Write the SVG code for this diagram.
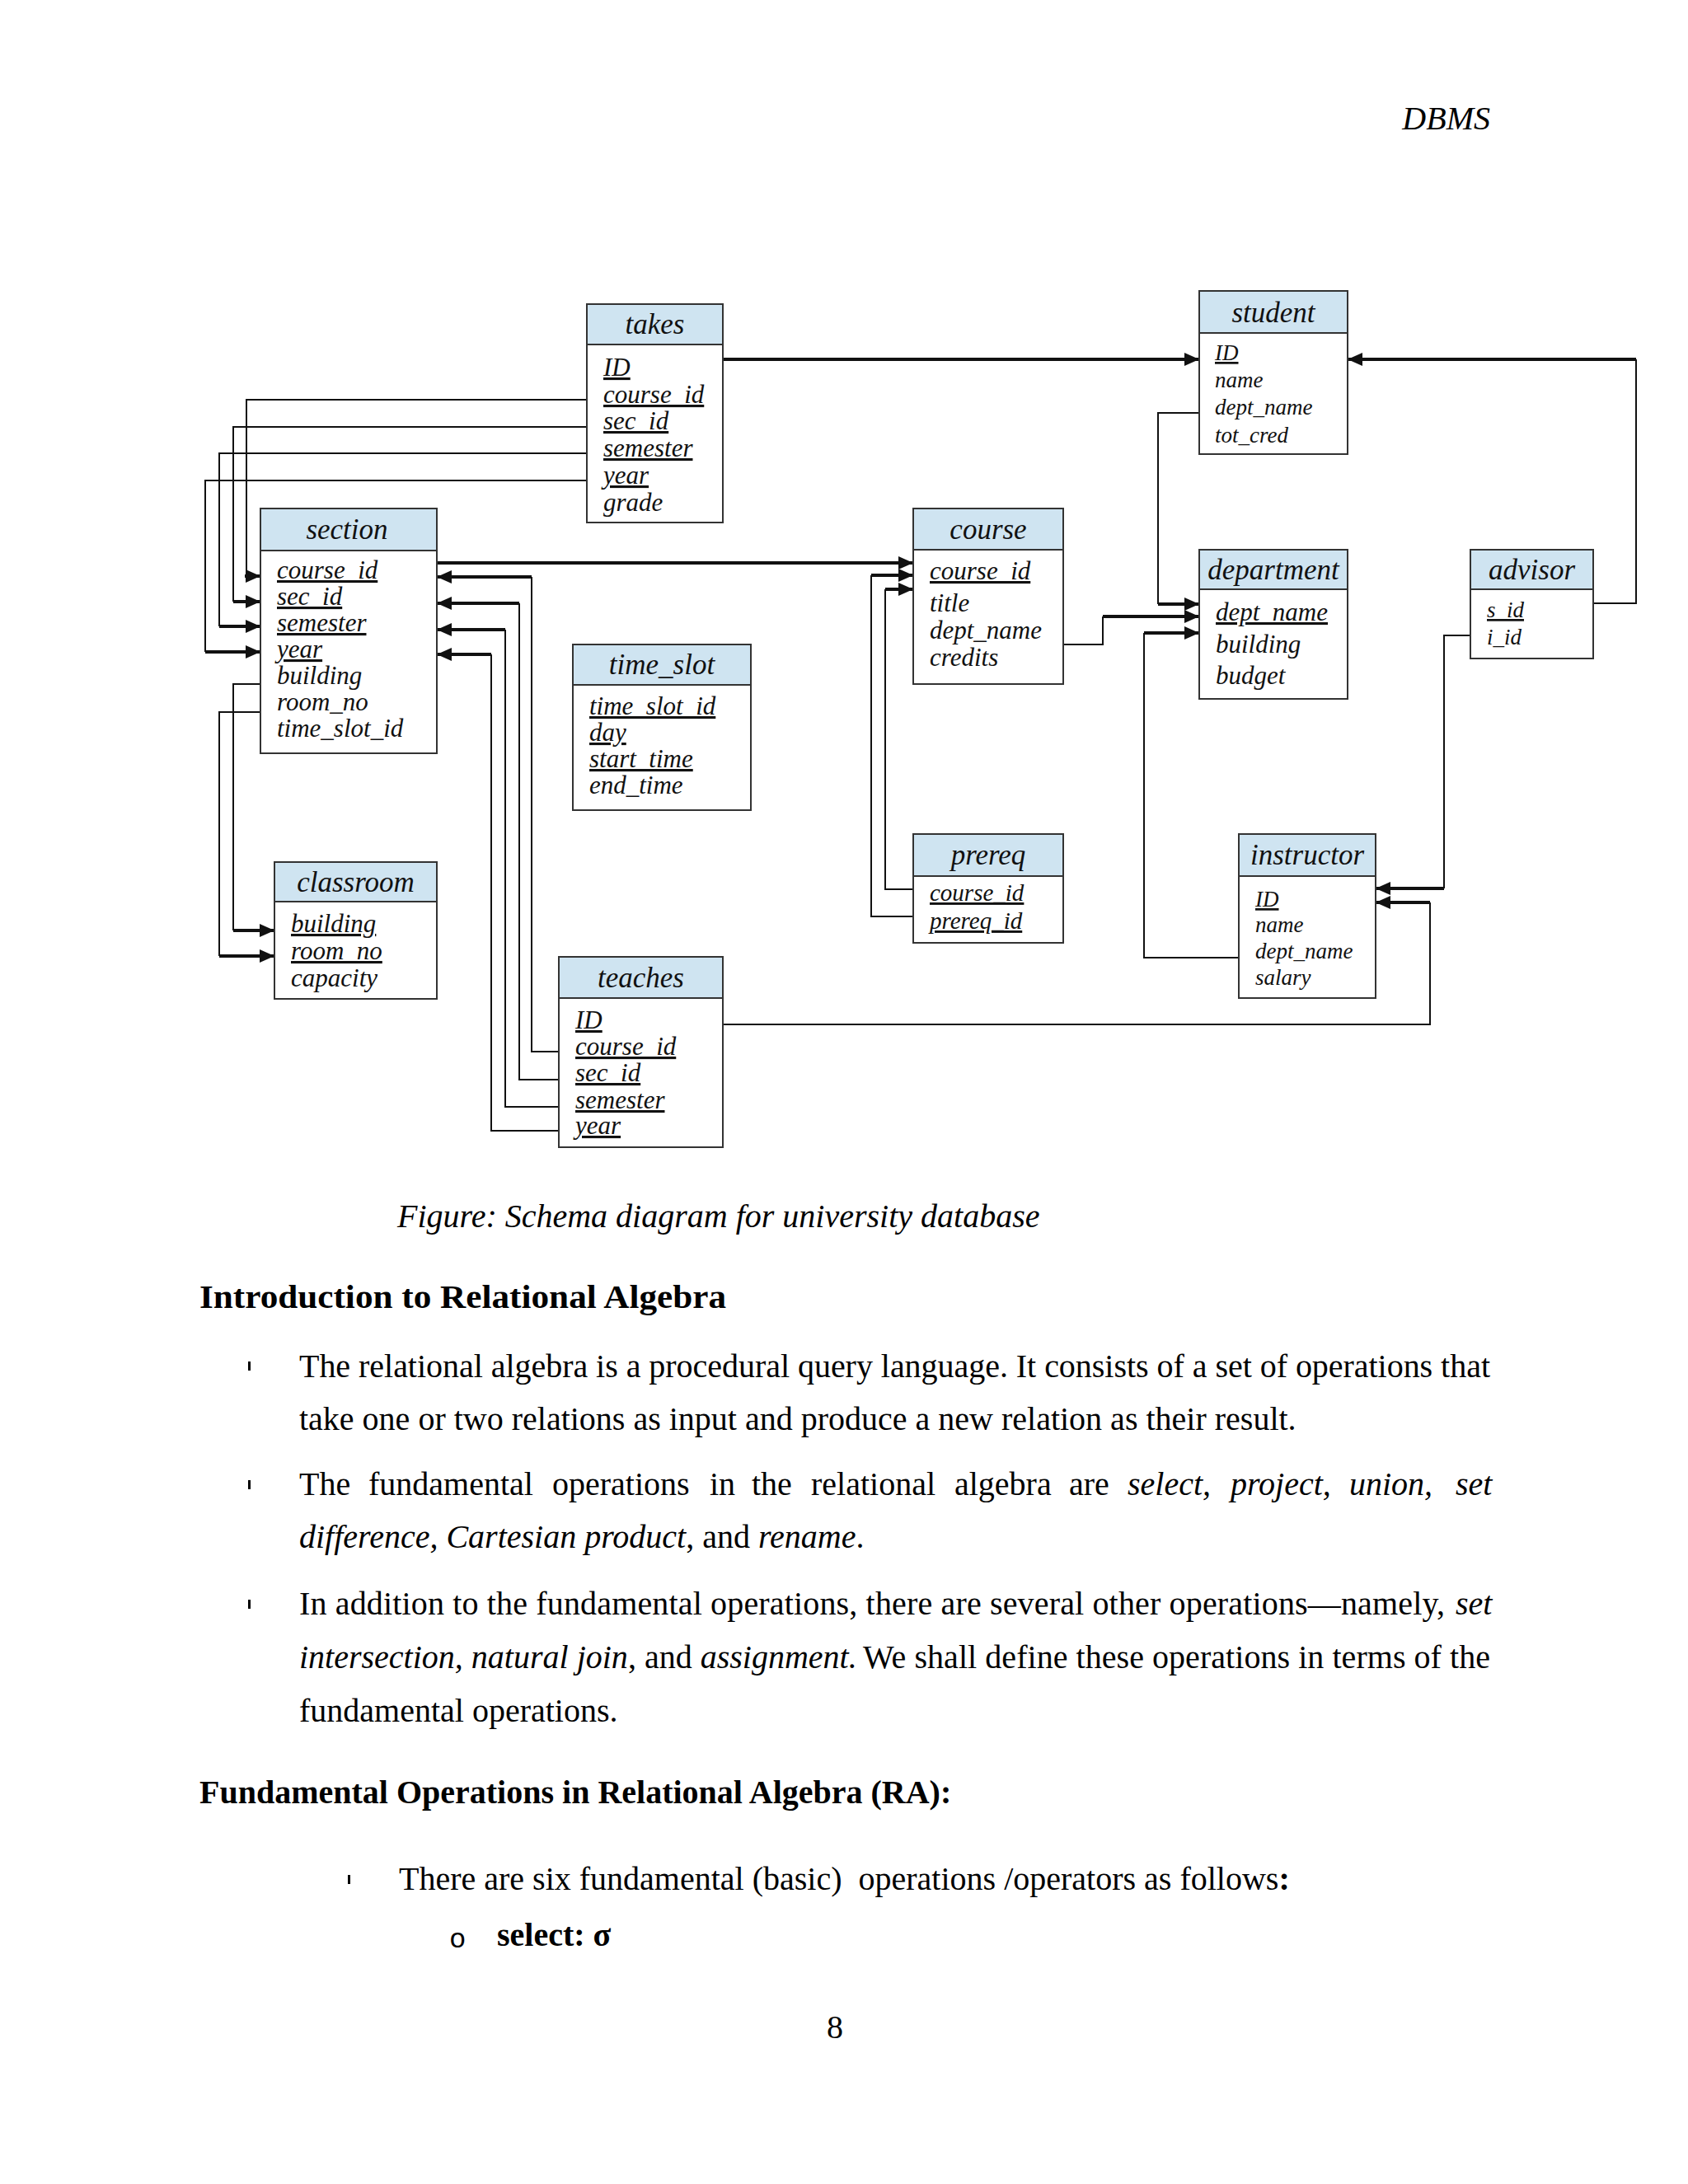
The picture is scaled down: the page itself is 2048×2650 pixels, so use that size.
<svg xmlns="http://www.w3.org/2000/svg" width="2048" height="2650" viewBox="0 0 2048 2650">
<defs>
<marker id="ah" markerUnits="userSpaceOnUse" markerWidth="19" markerHeight="17" refX="18" refY="8" orient="auto" viewBox="0 0 19 17"><path d="M0,0 L18,8 L0,16 z" fill="#111"/></marker>
<style>
.box{fill:#fff;stroke:#333;stroke-width:2}
.hdr{fill:#cfe4f1;stroke:#333;stroke-width:2}
.t{font-family:"Liberation Serif",serif;font-style:italic;fill:#111}
.h{font-size:35px;text-anchor:middle}
.a{font-size:31px}
.s{font-size:27px}
.m{font-size:29px}
.pk{text-decoration:underline}
.thin{fill:none;stroke:#111;stroke-width:2}
.thick{fill:none;stroke:#111;stroke-width:4}
.p{font-family:"Liberation Serif",serif;font-size:40px;fill:#000}
.i{font-style:italic}
.b{font-weight:bold}
.bul{fill:#000}
</style>
</defs>
<rect width="2048" height="2650" fill="#fff"/>

<text class="p i" x="1808" y="157" text-anchor="end">DBMS</text>

<g id="connectors">
<path class="thick" d="M877,436 H1455" marker-end="url(#ah)"/>
<path class="thin" d="M712,485 H299 V699"/><path class="thick" d="M297,699 H316" marker-end="url(#ah)"/>
<path class="thin" d="M712,518 H283 V730"/><path class="thick" d="M283,730 H316" marker-end="url(#ah)"/>
<path class="thin" d="M712,550 H266 V760"/><path class="thick" d="M266,760 H316" marker-end="url(#ah)"/>
<path class="thin" d="M712,583 H249 V791"/><path class="thick" d="M249,791 H316" marker-end="url(#ah)"/>
<path class="thin" d="M316,830 H283 V1129"/><path class="thick" d="M283,1129 H333" marker-end="url(#ah)"/>
<path class="thin" d="M316,864 H266 V1160"/><path class="thick" d="M266,1160 H333" marker-end="url(#ah)"/>
<path class="thick" d="M530,683 H1108" marker-end="url(#ah)"/>
<path class="thin" d="M678,1276 H645 V700"/><path class="thick" d="M645,700 H530" marker-end="url(#ah)"/>
<path class="thin" d="M678,1310 H630 V732"/><path class="thick" d="M630,732 H530" marker-end="url(#ah)"/>
<path class="thin" d="M678,1343 H613 V764"/><path class="thick" d="M613,764 H530" marker-end="url(#ah)"/>
<path class="thin" d="M678,1372 H596 V794"/><path class="thick" d="M596,794 H530" marker-end="url(#ah)"/>
<path class="thin" d="M877,1243 H1735 V1095"/><path class="thick" d="M1735,1095 H1669" marker-end="url(#ah)"/>
<path class="thin" d="M1784,771 H1752 V1078"/><path class="thick" d="M1752,1078 H1669" marker-end="url(#ah)"/>
<path class="thin" d="M1933,732 H1985 V436"/><path class="thick" d="M1985,436 H1635" marker-end="url(#ah)"/>
<path class="thin" d="M1455,501 H1405 V733"/><path class="thick" d="M1405,733 H1455" marker-end="url(#ah)"/>
<path class="thin" d="M1290,782 H1338 V748"/><path class="thick" d="M1338,748 H1455" marker-end="url(#ah)"/>
<path class="thin" d="M1503,1162 H1388 V768"/><path class="thick" d="M1388,768 H1455" marker-end="url(#ah)"/>
<path class="thin" d="M1108,1079 H1074 V715"/><path class="thick" d="M1074,715 H1108" marker-end="url(#ah)"/>
<path class="thin" d="M1108,1112 H1057 V698"/><path class="thick" d="M1057,698 H1108" marker-end="url(#ah)"/>
</g>

<g id="takes">
<rect class="box" x="712" y="369" width="165" height="265"/>
<rect class="hdr" x="712" y="369" width="165" height="49"/>
<text class="t h" x="794.5" y="405">takes</text>
<text class="t a pk" x="732" y="456">ID</text>
<text class="t a pk" x="732" y="489">course_id</text>
<text class="t a pk" x="732" y="521">sec_id</text>
<text class="t a pk" x="732" y="554">semester</text>
<text class="t a pk" x="732" y="587">year</text>
<text class="t a" x="732" y="620">grade</text>
</g>

<g id="student">
<rect class="box" x="1455" y="353" width="180" height="198"/>
<rect class="hdr" x="1455" y="353" width="180" height="51"/>
<text class="t h" x="1545" y="391">student</text>
<text class="t s pk" x="1474" y="437">ID</text>
<text class="t s" x="1474" y="470">name</text>
<text class="t s" x="1474" y="503">dept_name</text>
<text class="t s" x="1474" y="537">tot_cred</text>
</g>

<g id="section">
<rect class="box" x="316" y="617" width="214" height="297"/>
<rect class="hdr" x="316" y="617" width="214" height="51"/>
<text class="t h" x="421" y="654">section</text>
<text class="t a pk" x="336" y="702">course_id</text>
<text class="t a pk" x="336" y="734">sec_id</text>
<text class="t a pk" x="336" y="766">semester</text>
<text class="t a pk" x="336" y="798">year</text>
<text class="t a" x="336" y="830">building</text>
<text class="t a" x="336" y="862">room_no</text>
<text class="t a" x="336" y="894">time_slot_id</text>
</g>

<g id="course">
<rect class="box" x="1108" y="617" width="182" height="213"/>
<rect class="hdr" x="1108" y="617" width="182" height="50"/>
<text class="t h" x="1199" y="654">course</text>
<text class="t a pk" x="1128" y="703">course_id</text>
<text class="t a" x="1128" y="742">title</text>
<text class="t a" x="1128" y="775">dept_name</text>
<text class="t a" x="1128" y="808">credits</text>
</g>

<g id="department">
<rect class="box" x="1455" y="667" width="180" height="181"/>
<rect class="hdr" x="1455" y="667" width="180" height="48"/>
<text class="t h" x="1545" y="703">department</text>
<text class="t a pk" x="1475" y="753">dept_name</text>
<text class="t a" x="1475" y="792">building</text>
<text class="t a" x="1475" y="830">budget</text>
</g>

<g id="advisor">
<rect class="box" x="1784" y="667" width="149" height="132"/>
<rect class="hdr" x="1784" y="667" width="149" height="48"/>
<text class="t h" x="1858.5" y="703">advisor</text>
<text class="t s pk" x="1804" y="749">s_id</text>
<text class="t s" x="1804" y="782">i_id</text>
</g>

<g id="time_slot">
<rect class="box" x="695" y="782" width="216" height="201"/>
<rect class="hdr" x="695" y="782" width="216" height="49"/>
<text class="t h" x="803" y="818">time_slot</text>
<text class="t a pk" x="715" y="867">time_slot_id</text>
<text class="t a pk" x="715" y="899">day</text>
<text class="t a pk" x="715" y="931">start_time</text>
<text class="t a" x="715" y="963">end_time</text>
</g>

<g id="prereq">
<rect class="box" x="1108" y="1012" width="182" height="132"/>
<rect class="hdr" x="1108" y="1012" width="182" height="51"/>
<text class="t h" x="1199" y="1049">prereq</text>
<text class="t m pk" x="1128" y="1093">course_id</text>
<text class="t m pk" x="1128" y="1127">prereq_id</text>
</g>

<g id="instructor">
<rect class="box" x="1503" y="1012" width="166" height="199"/>
<rect class="hdr" x="1503" y="1012" width="166" height="51"/>
<text class="t h" x="1586" y="1049">instructor</text>
<text class="t s pk" x="1523" y="1100">ID</text>
<text class="t s" x="1523" y="1131">name</text>
<text class="t s" x="1523" y="1163">dept_name</text>
<text class="t s" x="1523" y="1195">salary</text>
</g>

<g id="classroom">
<rect class="box" x="333" y="1046" width="197" height="166"/>
<rect class="hdr" x="333" y="1046" width="197" height="48"/>
<text class="t h" x="431.5" y="1082">classroom</text>
<text class="t a pk" x="353" y="1131">building</text>
<text class="t a pk" x="353" y="1164">room_no</text>
<text class="t a" x="353" y="1197">capacity</text>
</g>

<g id="teaches">
<rect class="box" x="678" y="1161" width="199" height="231"/>
<rect class="hdr" x="678" y="1161" width="199" height="50"/>
<text class="t h" x="777.5" y="1198">teaches</text>
<text class="t a pk" x="698" y="1248">ID</text>
<text class="t a pk" x="698" y="1280">course_id</text>
<text class="t a pk" x="698" y="1312">sec_id</text>
<text class="t a pk" x="698" y="1345">semester</text>
<text class="t a pk" x="698" y="1376">year</text>
</g>

<text class="p i" x="482" y="1489">Figure: Schema diagram for university database</text>

<text class="p b" x="242" y="1587" font-size="43" textLength="639" lengthAdjust="spacingAndGlyphs">Introduction to Relational Algebra</text>

<rect class="bul" x="301" y="1652" width="3" height="11"/>
<text class="p" x="363" y="1671" textLength="1445" lengthAdjust="spacing">The relational algebra is a procedural query language. It consists of a set of operations that</text>
<text class="p" x="363" y="1735">take one or two relations as input and produce a new relation as their result.</text>

<rect class="bul" x="301" y="1796" width="3" height="11"/>
<text class="p" y="1814"><tspan x="363">The</tspan><tspan x="447">fundamental</tspan><tspan x="670">operations</tspan><tspan x="861">in</tspan><tspan x="912">the</tspan><tspan x="984">relational</tspan><tspan x="1158">algebra</tspan><tspan x="1297">are</tspan><tspan x="1368" class="i">select,</tspan><tspan x="1493" class="i">project,</tspan><tspan x="1637" class="i">union,</tspan><tspan x="1766" class="i">set</tspan></text>
<text class="p" x="363" y="1878" style="white-space:pre"><tspan class="i">difference, Cartesian product</tspan>, and <tspan class="i">rename</tspan>.</text>

<rect class="bul" x="301" y="1941" width="3" height="11"/>
<text class="p" x="363" y="1959" textLength="1390" lengthAdjust="spacing">In addition to the fundamental operations, there are several other operations—namely,</text>
<text class="p i" x="1766" y="1959">set</text>
<text class="p" x="363" y="2024" style="white-space:pre"><tspan class="i">intersection, natural join</tspan>, and <tspan class="i">assignment.</tspan></text>
<text class="p" x="1047" y="2024" textLength="761" lengthAdjust="spacing">We shall define these operations in terms of the</text>
<text class="p" x="363" y="2089">fundamental operations.</text>

<text class="p b" x="242" y="2188">Fundamental Operations in Relational Algebra (RA):</text>

<rect class="bul" x="422" y="2275" width="3" height="11"/>
<text class="p" x="484" y="2293" style="white-space:pre">There are six fundamental (basic)  operations /operators as follows<tspan class="b">:</tspan></text>

<text x="545" y="2363" font-family="'Liberation Mono',monospace" font-size="34" fill="#000">o</text>
<text class="p b" x="603" y="2361">select: σ</text>

<text class="p" x="1013" y="2473" text-anchor="middle">8</text>
</svg>
